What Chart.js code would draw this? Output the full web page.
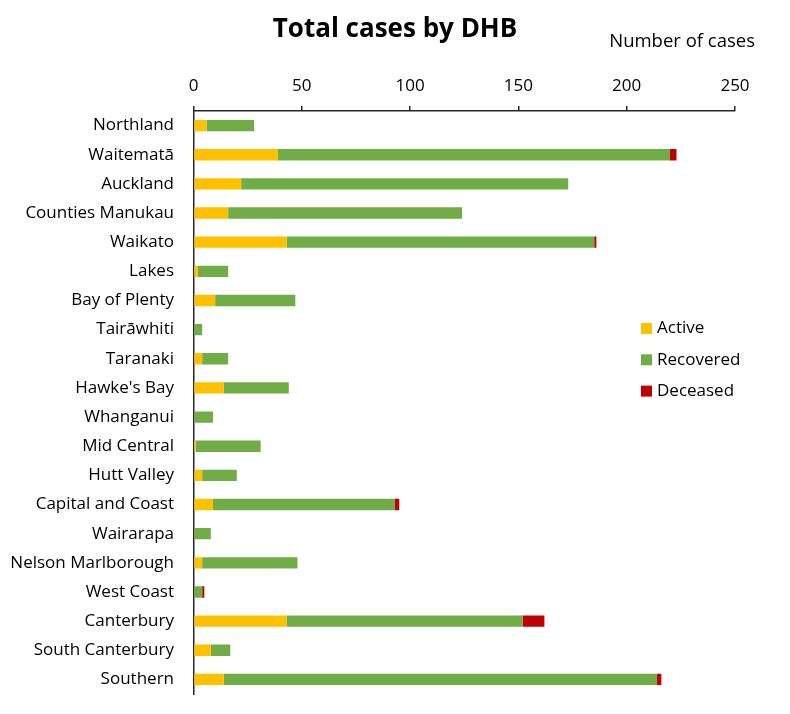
<!DOCTYPE html>
<html>
<head>
<meta charset="utf-8">
<script src="https://cdn.jsdelivr.net/npm/chart.js@4.4.0/dist/chart.umd.min.js"></script>
<style>
  html, body { margin: 0; padding: 0; background: #fff; overflow: hidden; }
</style>
</head>
<body>
<canvas id="dhbChart" width="790" height="714"></canvas>
<script>
// DATA
const dhbs = ["Northland", "Waitematā", "Auckland", "Counties Manukau", "Waikato", "Lakes",
  "Bay of Plenty", "Tairāwhiti", "Taranaki", "Hawke's Bay", "Whanganui", "Mid Central",
  "Hutt Valley", "Capital and Coast", "Wairarapa", "Nelson Marlborough", "West Coast",
  "Canterbury", "South Canterbury", "Southern"];

const active    = [6, 39, 22, 16, 43, 2, 10, 0, 4, 14, 0, 1, 4, 9, 0, 4, 0, 43, 8, 14];
const recovered = [22, 181, 151, 108, 142, 14, 37, 4, 12, 30, 9, 30, 16, 84, 8, 44, 4, 109, 9, 200];
const deceased  = [0, 3, 0, 0, 1, 0, 0, 0, 0, 0, 0, 0, 0, 2, 0, 0, 1, 10, 0, 2];

const xTicks = [0, 50, 100, 150, 200, 250];

const fontFamily = "'Open Sans', 'Noto Sans', sans-serif";

// title, axis caption and legend drawn on the canvas
const extraText = {
  id: "extraText",
  afterDraw(chart) {
    const ctx = chart.ctx;
    ctx.save();
    ctx.fillStyle = "#000";
    ctx.textBaseline = "middle";

    ctx.font = "bold 26px " + fontFamily;
    ctx.textAlign = "center";
    ctx.fillText("Total cases by DHB", 395, 30);

    ctx.font = "18.5px " + fontFamily;
    ctx.textAlign = "right";
    ctx.fillText("Number of cases", 755, 42);

    ctx.font = "17px " + fontFamily;
    ctx.textAlign = "left";
    chart.data.datasets.forEach((ds, i) => {
      const y = 328.5 + i * 31.3;
      ctx.fillStyle = ds.backgroundColor;
      ctx.fillRect(641, y - 5.5, 11, 11);
      ctx.fillStyle = "#000";
      ctx.fillText(ds.label, 657, y);
    });
    ctx.restore();
  }
};

const ctx = document.getElementById("dhbChart").getContext("2d");
new Chart(ctx, {
  type: "bar",
  data: {
    labels: dhbs,
    datasets: [
      { label: "Active", data: active, backgroundColor: "#FFC000" },
      { label: "Recovered", data: recovered, backgroundColor: "#70AD47" },
      { label: "Deceased", data: deceased, backgroundColor: "#C00000" }
    ]
  },
  options: {
    indexAxis: "y",
    responsive: false,
    animation: false,
    layout: { padding: { top: 71, right: 55, bottom: 20, left: 0 } },
    datasets: {
      bar: { barPercentage: 0.39, categoryPercentage: 1 }
    },
    plugins: {
      legend: { display: false },
      title: { display: false },
      tooltip: { enabled: false }
    },
    scales: {
      x: {
        position: "top",
        stacked: true,
        min: 0,
        max: 250,
        afterBuildTicks: scale => { scale.ticks = xTicks.map(v => ({ value: v })); },
        afterFit: scale => { scale.height = 40; },
        grid: { drawOnChartArea: false, drawTicks: true, tickLength: 5, color: "#262626", lineWidth: 1.5 },
        border: { display: true, color: "#262626", width: 1.5 },
        ticks: { color: "#000", padding: 10, font: { family: fontFamily, size: 17 } }
      },
      y: {
        stacked: true,
        afterFit: scale => { scale.width = 193.5; },
        // invisible tick marks keep the labels clear of the axis line
        grid: { drawOnChartArea: false, drawTicks: true, tickLength: 10, color: "rgba(0,0,0,0)" },
        border: { display: true, color: "#262626", width: 1.5 },
        ticks: { color: "#000", padding: 9.5, font: { family: fontFamily, size: 17 } }
      }
    }
  },
  plugins: [extraText]
});
</script>
</body>
</html>
